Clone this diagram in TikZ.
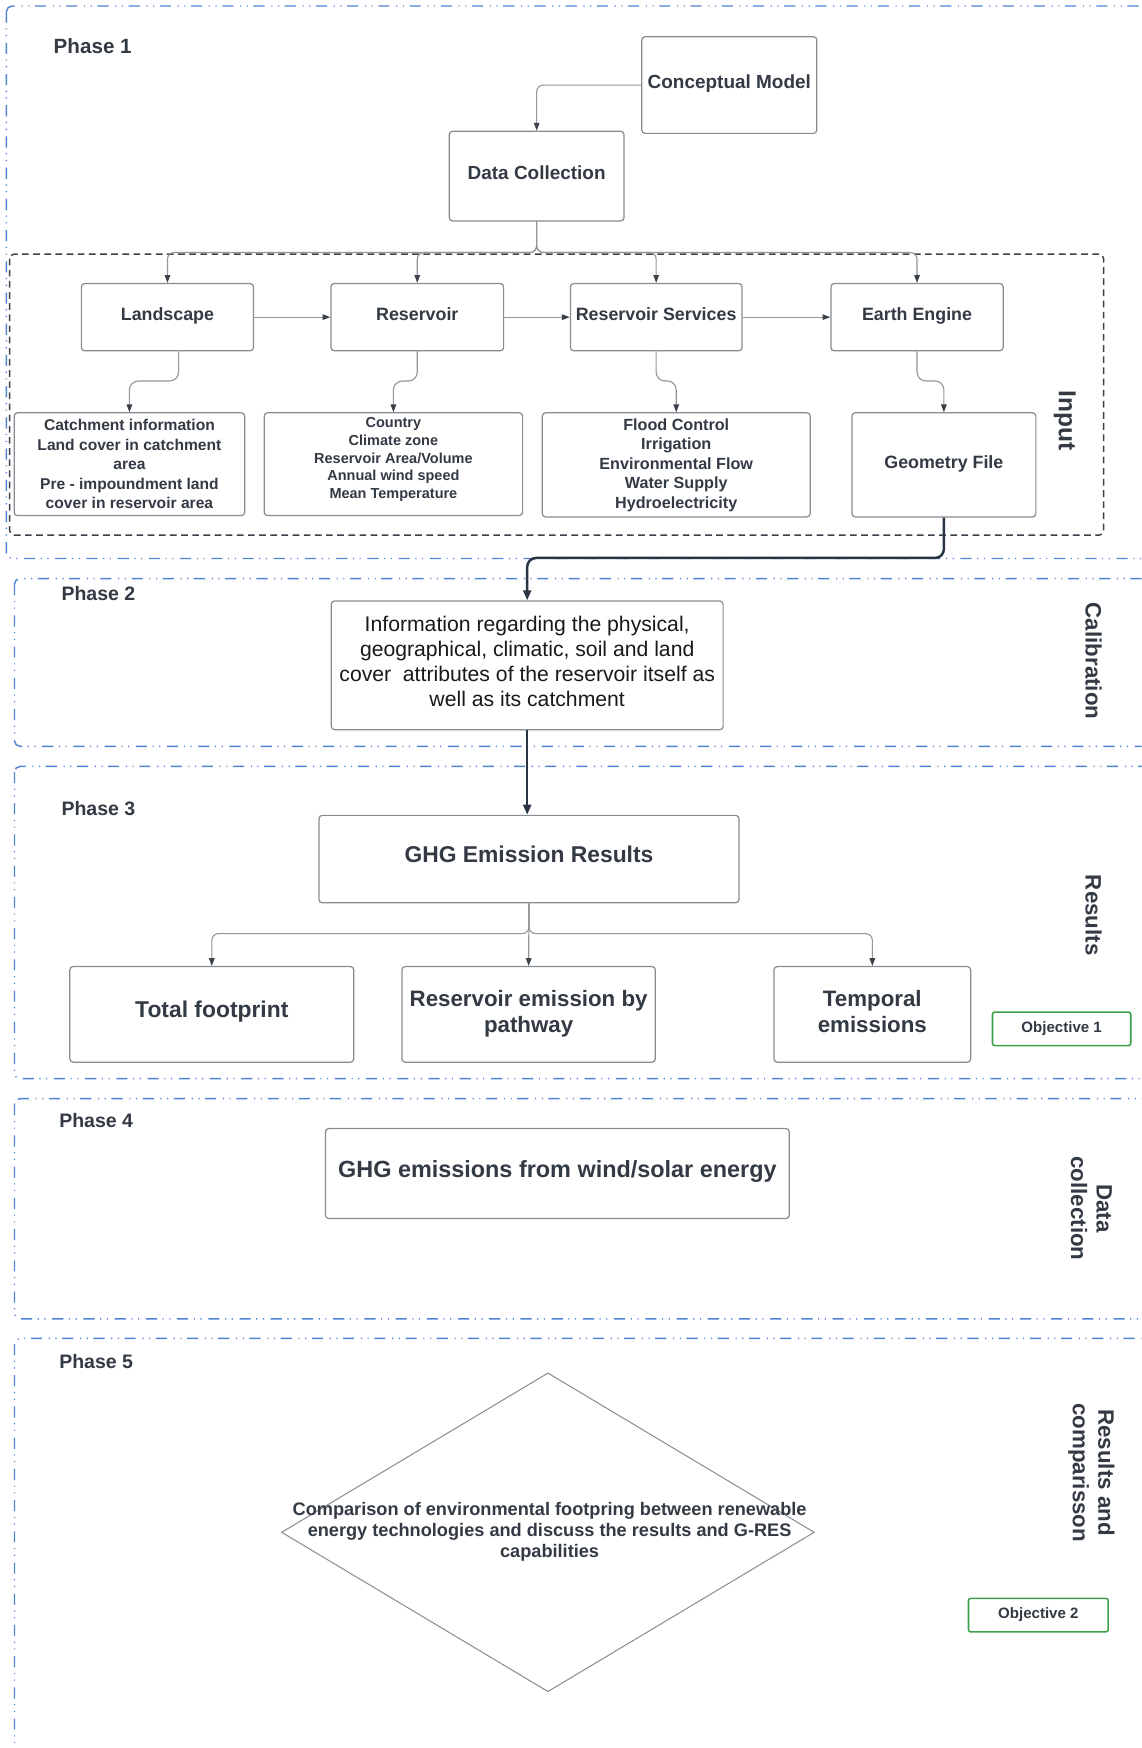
\documentclass[tikz,border=0pt]{standalone}
\usepackage{fontspec}
\setmainfont{Liberation Sans}
\usetikzlibrary{arrows.meta,shapes.geometric,calc}
\definecolor{txt}{RGB}{51,58,68}
\definecolor{bline}{RGB}{135,140,147}
\definecolor{cline}{RGB}{150,150,150}
\definecolor{tipc}{RGB}{58,65,74}
\definecolor{phaseblue}{RGB}{80,132,214}
\definecolor{objgreen}{RGB}{60,160,75}
\definecolor{thickc}{RGB}{40,52,68}
\newcommand{\fsz}[2]{\fontsize{#1}{#2}\selectfont}
\begin{document}
\begin{tikzpicture}[x=1pt,y=-1pt,
  box/.style={draw=bline, line width=1.1pt, rounded corners=3pt, inner sep=0pt, align=center, text=txt, font=\bfseries\fsz{16}{19}},
  oneline/.style={text height=0.72em, text depth=0.1em},
  arr/.style={draw=cline, line width=1pt, rounded corners=6pt, -{Triangle[length=7pt,width=5pt,color=tipc]}},
  thickarr/.style={draw=thickc, line width=2.2pt, rounded corners=8pt, -{Triangle[length=9pt,width=7pt]}},
  phase/.style={draw=phaseblue, line width=1.3pt, rounded corners=5pt, dash pattern=on 10pt off 5pt on 1pt off 5pt on 1pt off 6pt},
  inbox/.style={draw=tipc, line width=1.3pt, rounded corners=4pt, dash pattern=on 6pt off 4pt},
  plabel/.style={anchor=west, text=txt, font=\bfseries\fsz{17.5}{21}, inner sep=0pt},
  side/.style={rotate=-90, text=txt, font=\bfseries\fsz{20}{23}, align=center, inner sep=0pt},
  obj/.style={draw=objgreen, line width=1.4pt, rounded corners=2pt, inner sep=0pt, text=txt, font=\bfseries\fsz{13.5}{16}, text height=0.72em, text depth=0.15em}
]
\useasboundingbox (0,0) rectangle (1024,1568);
\clip (0,0) rectangle (1024,1568);
\fill[white] (0,0) rectangle (1024,1568);

% phase frames
\draw[phase] (5.8,5.4) rectangle (1032,501);
\draw[phase] (13,519) rectangle (1032,669.5);
\draw[phase] (13,687.5) rectangle (1032,967.5);
\draw[phase] (13,985.5) rectangle (1032,1183);
\draw[phase] (13,1200.6) rectangle (1032,1600);
\draw[inbox] (8.6,228) rectangle (990,480);

% phase labels
\node[plabel, font=\bfseries\fsz{18.5}{21}] (p1) at (48,41) {Phase 1};
\node[plabel] (p2) at (55,532) {Phase 2};
\node[plabel] (p3) at (55,725) {Phase 3};
\node[plabel] (p4) at (53,1005) {Phase 4};
\node[plabel] (p5) at (53,1221) {Phase 5};

% side labels
\node[side, font=\bfseries\fsz{22}{25}] (lin) at (955,377) {Input};
\node[side] (lcal) at (981,593) {Calibration};
\node[side] (lres) at (981,821) {Results};
\node[side] (ldata) at (979,1084) {Data\\collection};
\node[side] (lcmp) at (979,1321) {Results and\\comparisson};

% phase 1
\node[box, oneline, font=\bfseries\fsz{17}{20}, minimum width=157pt, minimum height=86.7pt] (concept) at (654.2,76.3) {Conceptual Model};
\node[box, oneline, font=\bfseries\fsz{17}{20}, minimum width=156.7pt, minimum height=80.5pt] (datacol) at (481.4,158) {Data Collection};

\node[box, oneline, minimum width=154.4pt, minimum height=60.4pt] (land) at (150.2,284.5) {Landscape};
\node[box, oneline, minimum width=154.9pt, minimum height=60.4pt] (res) at (374.3,284.5) {Reservoir};
\node[box, oneline, minimum width=153.9pt, minimum height=60.4pt] (serv) at (588.6,284.5) {Reservoir Services};
\node[box, oneline, minimum width=154.5pt, minimum height=60.4pt] (earth) at (822.6,284.5) {Earth Engine};

\node[box, font=\bfseries\fsz{14}{17.5}, minimum width=206.8pt, minimum height=92.2pt] (catch) at (116.1,416.4) {Catchment information\\Land cover in catchment\\area\\Pre - impoundment land\\cover in reservoir area};
\node[box, font=\bfseries\fsz{13}{16}, text depth=11pt, minimum width=231.8pt, minimum height=92.2pt] (country) at (352.9,416.4) {Country\\Climate zone\\Reservoir Area/Volume\\Annual wind speed\\Mean Temperature};
\node[box, font=\bfseries\fsz{14.5}{17.5}, minimum width=240.3pt, minimum height=93.4pt] (flood) at (606.6,417) {Flood Control\\Irrigation\\Environmental Flow\\Water Supply\\Hydroelectricity};
\node[box, oneline, minimum width=165pt, minimum height=93.4pt] (geom) at (846.7,417) {Geometry File};

% phase 2
\node[box, font=\fsz{19}{22.5}, text=black!90, text depth=7.5pt, minimum width=351.5pt, minimum height=115.5pt] (info) at (472.9,596.8) {Information regarding the physical,\\geographical, climatic, soil and land\\cover\ \ attributes of the reservoir itself as\\well as its catchment};

% phase 3
\node[box, oneline, font=\bfseries\fsz{20.5}{23}, minimum width=376.8pt, minimum height=78.4pt] (ghg) at (474.5,770.6) {GHG Emission Results};
\node[box, oneline, font=\bfseries\fsz{20.5}{23}, minimum width=254.7pt, minimum height=85.8pt] (total) at (190,909.9) {Total footprint};
\node[box, font=\bfseries\fsz{20}{23}, text depth=5.5pt, minimum width=227.3pt, minimum height=85.8pt] (remis) at (474.2,909.9) {Reservoir emission by\\pathway};
\node[box, font=\bfseries\fsz{20}{23}, text depth=5.5pt, minimum width=176.4pt, minimum height=85.8pt] (temp) at (782.5,909.9) {Temporal\\emissions};
\node[obj, minimum width=124pt, minimum height=30pt] (obj1) at (952.3,922.9) {Objective 1};

% phase 4
\node[box, oneline, font=\bfseries\fsz{21}{24}, minimum width=416pt, minimum height=80.7pt] (wind) at (500,1052.7) {GHG emissions from wind/solar energy};

% phase 5
\node[diamond, draw=bline, line width=0.9pt, minimum width=478pt, minimum height=286pt, inner sep=0pt] (cmp) at (491.5,1374.5) {};
\node[text=txt, font=\bfseries\fsz{16.3}{19}, align=center, inner sep=0pt] (cmptxt) at (493,1374) {Comparison of environmental footpring between renewable\\energy technologies and discuss the results and G-RES\\capabilities};
\node[obj, minimum width=125.3pt, minimum height=30pt] (obj2) at (931.4,1448.8) {Objective 2};

% connectors phase 1
\draw[arr] (concept.west) -| (datacol.north);
\coordinate (split1) at (481.4,226.5);
\draw[arr] (datacol.south) |- (land.north |- split1) -- (land.north);
\draw[arr] (datacol.south) |- (res.north |- split1) -- (res.north);
\draw[arr] (datacol.south) |- (serv.north |- split1) -- (serv.north);
\draw[arr] (datacol.south) |- (earth.north |- split1) -- (earth.north);

\draw[arr] (land.east) -- (res.west);
\draw[arr] (res.east) -- (serv.west);
\draw[arr] (serv.east) -- (earth.west);

\draw[arr, rounded corners=8pt] ([xshift=10pt]land.south) |- ([yshift=28pt]catch.north) -- (catch.north);
\draw[arr, rounded corners=8pt] (res.south) |- ([yshift=28pt]country.north) -- (country.north);
\draw[arr, rounded corners=8pt] (serv.south) |- ([yshift=28pt]flood.north) -- (flood.north);
\draw[arr, rounded corners=8pt] (earth.south) |- ([yshift=28pt]geom.north) -- (geom.north);

% thick connectors
\draw[thickarr] (geom.south) |- ([yshift=38pt]info.north) -- (info.north);
\draw[thickarr] (info.south) -- (info.south |- ghg.north);

% phase 3 connectors
\draw[arr] (ghg.south) |- ([yshift=29pt]total.north) -- (total.north);
\draw[arr] (ghg.south) |- ([yshift=29pt]temp.north) -- (temp.north);
\draw[arr] (ghg.south) -- (remis.north);
\end{tikzpicture}
\end{document}
